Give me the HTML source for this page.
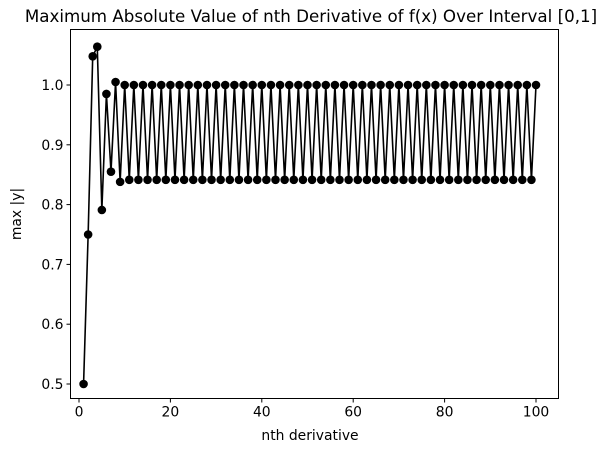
<!DOCTYPE html>
<html><head><meta charset="utf-8">
<style>
body{margin:0;background:#fff;font-family:"Liberation Sans","DejaVu Sans",sans-serif;}
svg text{font-family:"DejaVu Sans","Liberation Sans",sans-serif;}
</style></head>
<body>
<svg id="chart" width="605" height="453" xmlns="http://www.w3.org/2000/svg">
<text x="311" y="22" text-anchor="middle" font-size="16.7">Maximum Absolute Value of nth Derivative of f(x) Over Interval [0,1]</text>
<g id="plot"></g>
<rect x="70.5" y="29.5" width="488" height="369" fill="none" stroke="#000" stroke-width="1"/>
<text x="310" y="440" text-anchor="middle" font-size="13.9">nth derivative</text>
<text transform="translate(21,214) rotate(-90)" text-anchor="middle" font-size="13.9">max |y|</text>
</svg>
<script>
const earlyValues = [0.5, 0.75, 1.048, 1.064, 0.791, 0.985, 0.855, 1.005, 0.838];
const evenValue = 1.0;
const oddValue = 0.8415;
const xTicks = [0, 20, 40, 60, 80, 100];
const yTicks = [0.5, 0.6, 0.7, 0.8, 0.9, 1.0];

const ns = [], vals = [];
for (let n = 1; n <= 100; n++) {
  ns.push(n);
  vals.push(n <= earlyValues.length ? earlyValues[n-1] : (n % 2 === 0 ? evenValue : oddValue));
}
const L=70.5,R=558.5,T=29.5,B=398.5;
const xs = v => 79 + (v - 0) * (536 - 79) / 100;
const ys = v => 85 + (1.0 - v) * 598;
const NS="http://www.w3.org/2000/svg";
const plot=document.getElementById('plot');
const svg=document.getElementById('chart');
function mk(t,a,p){const e=document.createElementNS(NS,t);for(const k in a)e.setAttribute(k,a[k]);(p||plot).appendChild(e);return e;}

xTicks.forEach(t=>{
  const x=xs(t);
  const l=mk('line',{x1:x,x2:x,y1:B,y2:B+4,stroke:'#000'},svg);
  
  
  const tx=mk('text',{x:x,y:B+18,'text-anchor':'middle','font-size':'13.9'},svg);
  tx.textContent=t;
  
  
});
yTicks.forEach(t=>{
  const y=ys(t);
  const l=mk('line',{x1:L-4,x2:L,y1:y,y2:y,stroke:'#000'},svg);
  
  
  const tx=mk('text',{x:L-7,y:y+5,'text-anchor':'end','font-size':'13.9'},svg);
  tx.textContent=t.toFixed(1);
  
  
});

const pts=ns.map((n,i)=>xs(n).toFixed(2)+','+ys(vals[i]).toFixed(2)).join(' ');
const line=mk('polyline',{points:pts,fill:'none',stroke:'#000','stroke-width':1.6});


ns.forEach((n,i)=>{
  const c=mk('circle',{cx:xs(n),cy:ys(vals[i]),r:4.3,fill:'#000'});
  
  
});
</script>
</body></html>
